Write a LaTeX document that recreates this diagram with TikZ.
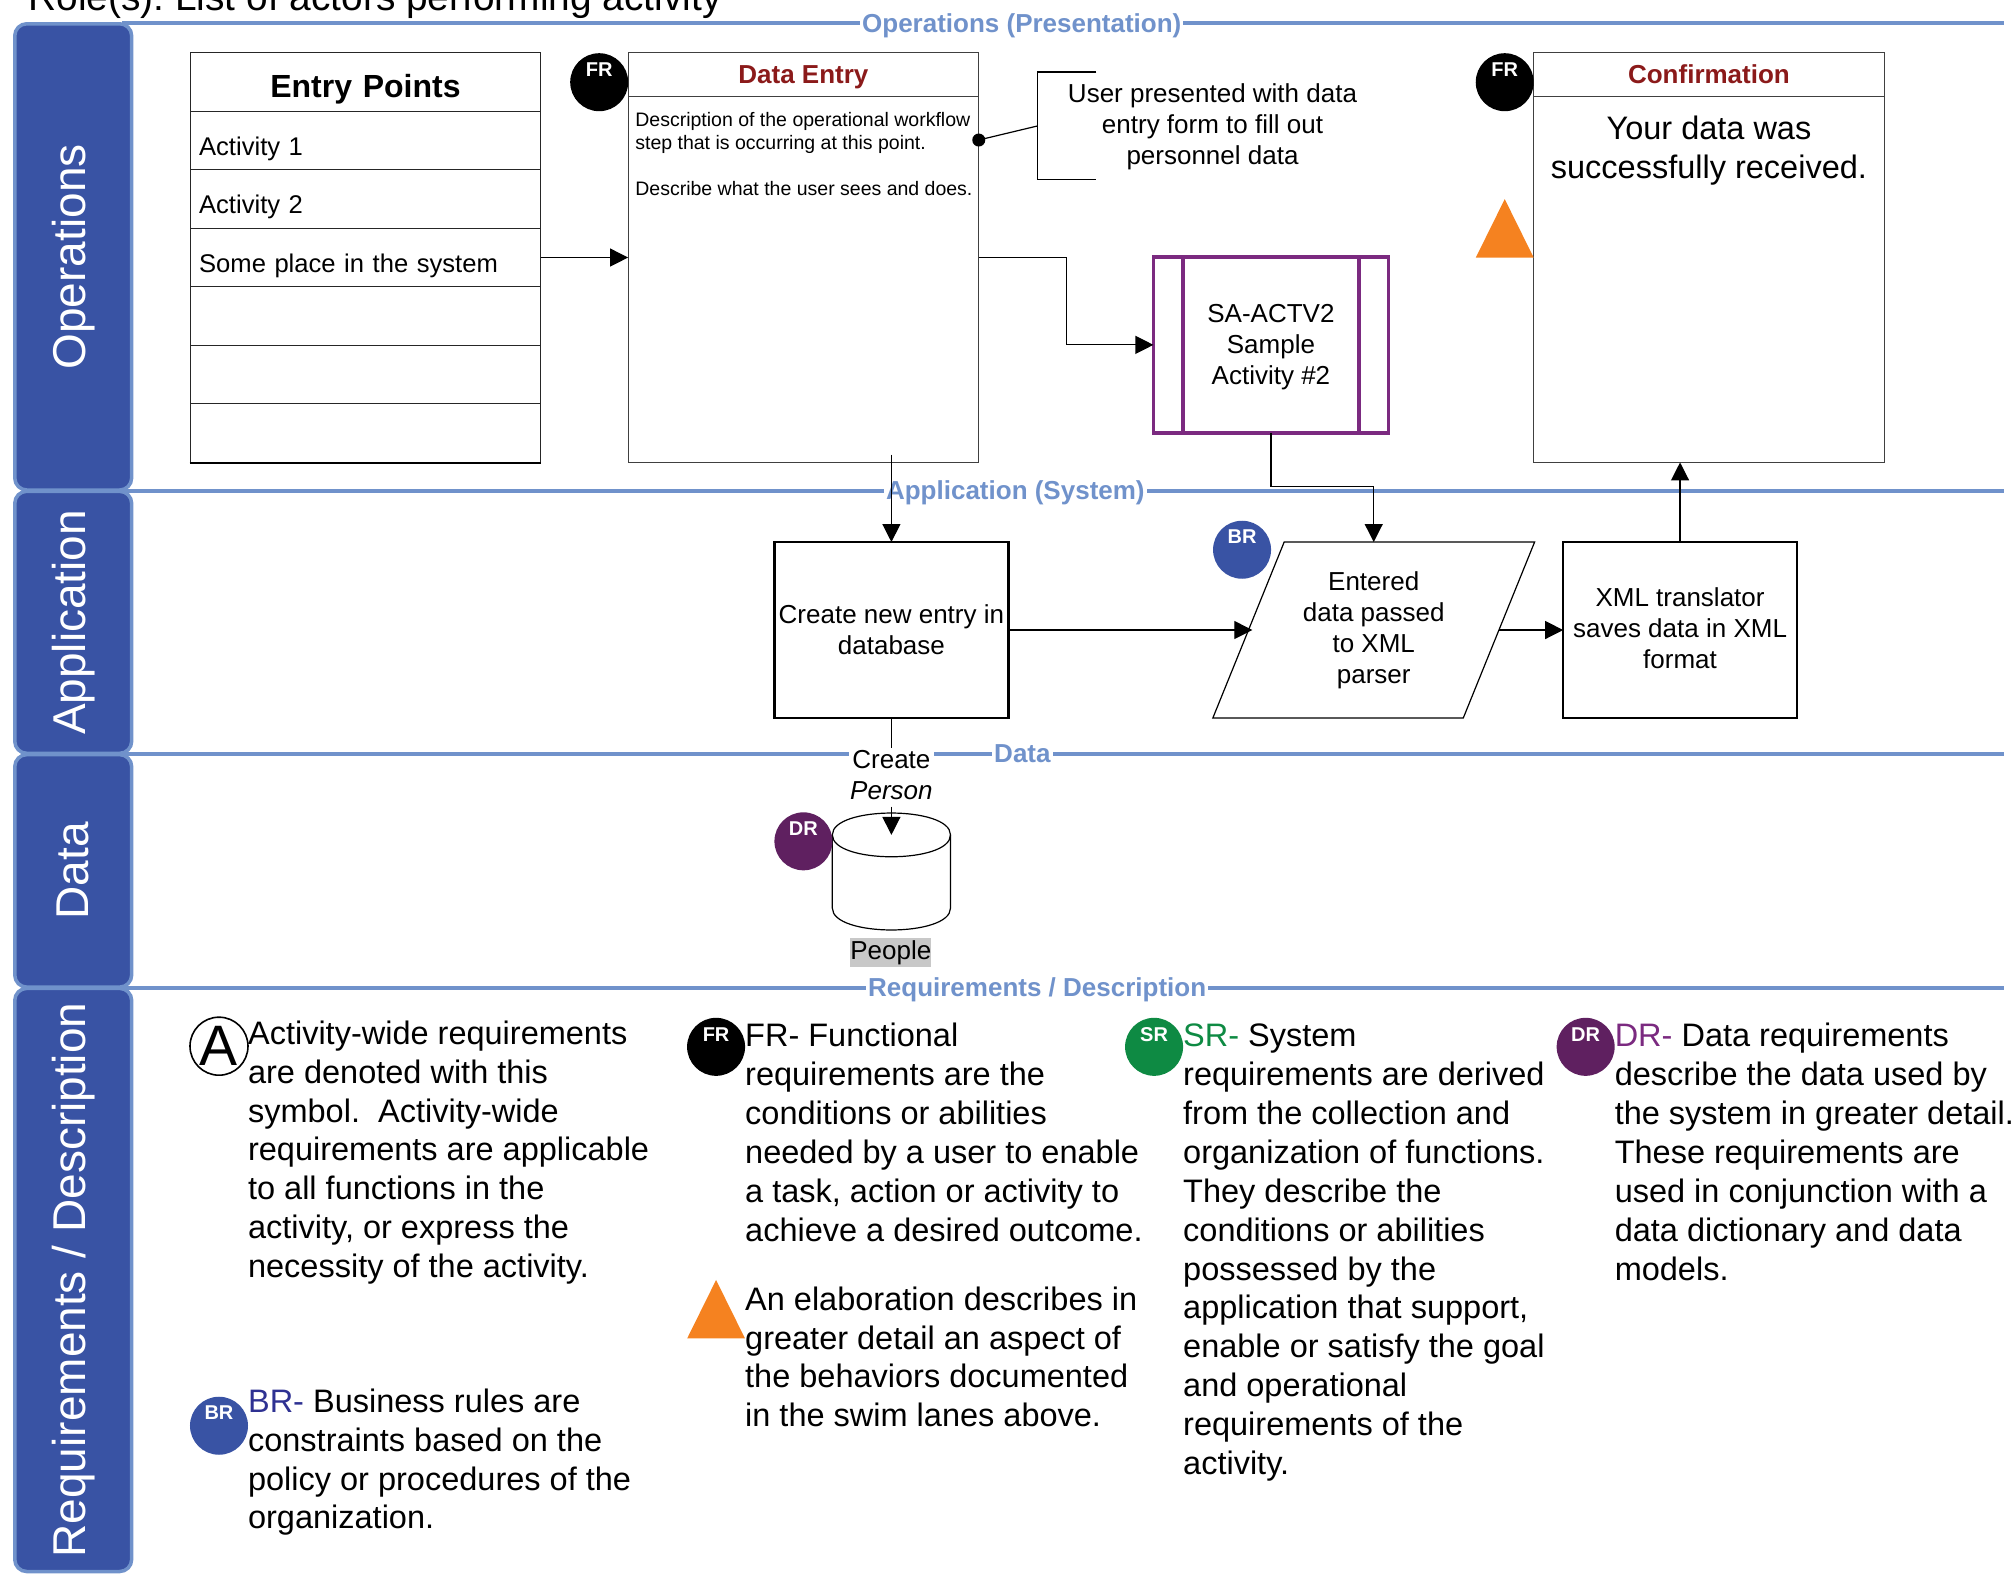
\documentclass[tikz,border=0pt]{standalone}
\usepackage{fontspec}
\setmainfont{Liberation Sans}
\usetikzlibrary{arrows.meta,shapes.geometric,calc}
\definecolor{lanefill}{HTML}{3953A4}
\definecolor{laneline}{HTML}{7092CB}
\definecolor{headred}{HTML}{8B1A1A}
\definecolor{subpurple}{HTML}{7B2A80}
\definecolor{drpurple}{HTML}{5F2060}
\definecolor{srgreen}{HTML}{0E8A43}
\definecolor{brblue}{HTML}{2E3192}
\definecolor{tri}{HTML}{F58220}
\definecolor{peoplegrey}{HTML}{C8C8C8}
\frenchspacing
\newcommand{\fs}[2]{\fontsize{#1pt}{#2pt}\selectfont}
\newcommand{\badgetxt}[1]{\smash{\raisebox{5.8pt}{\makebox[0pt]{\fs{20}{24}\bfseries #1}}}}
\newcommand{\rowtx}[1]{\smash{\raisebox{-14.8pt}{#1}}}
\tikzset{
  wh/.style 2 args={minimum width=#1*1.2844pt,minimum height=#2*1.2844pt,inner sep=0pt,outer sep=0pt},
  lane/.style={draw=laneline,fill=lanefill,line width=3.5pt,rounded corners=12pt,text=white,inner sep=0pt,outer sep=0pt},
  lanetxt/.style={text=white,rotate=90,font=\fs{46}{50},inner sep=0pt},
  sepline/.style={draw=laneline,line width=4pt},
  septxt/.style={fill=white,text=laneline,font=\fs{26}{30}\bfseries,inner xsep=2pt,inner ysep=1pt},
  tblrow/.style={draw=black!85,line width=1.2pt,fill=white,text width=332.6pt,align=left,inner xsep=9pt,font=\fs{25.6}{31}},
  panel/.style={draw=black!75,line width=1.2pt,fill=white},
  head/.style={draw=black!75,line width=1.2pt,font=\fs{26}{31}\bfseries,text=headred,text height=18.6pt,text depth=0pt},
  plain/.style={font=\fs{26}{31},align=center,inner sep=0pt},
  req/.style={font=\fs{32.5}{38.9},align=left,inner sep=0pt,anchor=north west},
  conn/.style={draw=black,line width=1.2pt},
  arr/.style={conn,-{Triangle[length=18pt,width=18pt]}},
  badge/.style={circle,minimum size=58pt,inner sep=0pt,outer sep=0pt,text=white},
  procbox/.style={draw=black,line width=2.6pt,fill=white,font=\fs{26}{31},align=center}
}
\begin{document}
\begin{tikzpicture}[x=1.2844pt,y=-1.2844pt]
\useasboundingbox (0,0) rectangle (1568,1226.2);
\clip (0,0) rectangle (1568,1226.2);

% title
\node[anchor=base west,inner sep=0pt,font=\fs{38.85}{44}] (title) at (22,8.5) {Role(s): List of actors performing activity};

% separators
\coordinate (e1) at (1560,18);
\coordinate (e2) at (1560,382);
\coordinate (e3) at (1560,587);
\coordinate (e4) at (1560,769);
\coordinate (s1) at (95,18);
\coordinate (s2) at (95,382);
\coordinate (s3) at (95,587);
\coordinate (s4) at (95,769);
\draw[sepline] (s1) -- (e1);
\draw[sepline] (s2) -- (e2);
\draw[sepline] (s3) -- (e3);
\draw[sepline] (s4) -- (e4);

% lanes
\node[lane,wh={91}{363}] (L1) at (57,200) {};
\node[lane,wh={91}{204}] (L2) at (57,484.5) {};
\node[lane,wh={91}{181}] (L3) at (57,678) {};
\node[lane,wh={91}{454}] (L4) at (57,996.5) {};
\node[lanetxt] (L1t) at (L1.center) {Operations};
\node[lanetxt] (L2t) at (L2.center) {Application};
\node[lanetxt] (L3t) at (L3.center) {Data};
\node[lanetxt] (L4t) at (L4.center) {Requirements / Description};

% separator labels
\node[septxt] (t1) at (795.5,20.3) {Operations (Presentation)};
\node[septxt] (t2) at (790.5,383.5) {Application (System)};
\node[septxt] (t3) at (796,586.5) {Data};
\node[septxt] (t4) at (807.5,770.5) {Requirements / Description};

% entry points table
\node[tblrow,minimum height=59pt,align=center,font=\fs{32}{38}\bfseries,inner sep=0pt,inner xsep=9pt] (h0) at (284.5,64) {\smash{\raisebox{-15pt}{Entry Points}}};
\node[tblrow,minimum height=58.5pt,inner ysep=0pt] (r1) at (284.5,109.5) {\rowtx{Activity 1}};
\node[tblrow,minimum height=58.5pt,inner ysep=0pt] (r2) at (284.5,155) {\rowtx{Activity 2}};
\node[tblrow,minimum height=58.5pt,inner ysep=0pt] (r3) at (284.5,200.5) {\rowtx{Some place in the system}};
\node[tblrow,minimum height=58.5pt,inner ysep=0pt] (r4) at (284.5,246) {};
\node[tblrow,minimum height=58.5pt,inner ysep=0pt] (r5) at (284.5,291.5) {};
\node[tblrow,minimum height=58.5pt,inner ysep=0pt] (r6) at (284.5,337) {};
\draw[draw=black,line width=2pt] (r6.south west) -- (r6.south east);

% data entry
\node[panel,wh={273}{319}] (de) at (625.5,200.5) {};
\node[head,wh={273}{34}] (deh) at (625.5,58) {Data Entry};
\node[anchor=north west,inner sep=0pt,align=left,font=\fs{19.5}{23}] (det) at (494.5,87.5) {Description of the operational workflow\\step that is occurring at this point.\\[23pt]Describe what the user sees and does.};
\node[badge,fill=black] (fr1) at (466.5,64) {\badgetxt{FR}};

% note
\coordinate (n1) at (853.5,56);
\coordinate (n2) at (808,56);
\coordinate (n3) at (808,140);
\coordinate (n4) at (853.5,140);
\coordinate (n5) at (808,98);
\draw[conn] (n1) -- (n2) -- (n3) -- (n4);
\node[plain] (note) at (944,99) {User presented with data\\entry form to fill out\\personnel data};
\node[circle,fill=black,minimum size=13pt,inner sep=0pt,outer sep=0pt] (dot) at (762,109) {};
\draw[conn] (dot) -- (n5);

% sub activity
\node[wh={183}{137},draw=subpurple,line width=3.5pt,fill=white] (sub) at (989.5,268.5) {};
\draw[draw=subpurple,line width=3.5pt] ([xshift=23*1.2844pt]sub.north west) -- ([xshift=23*1.2844pt]sub.south west);
\draw[draw=subpurple,line width=3.5pt] ([xshift=-23*1.2844pt]sub.north east) -- ([xshift=-23*1.2844pt]sub.south east);
\node[plain] (subt) at (989.5,270) {SA-ACTV2\\Sample\\Activity \#2};

% confirmation
\node[panel,wh={273}{319}] (co) at (1330.5,200.5) {};
\node[head,wh={273}{34}] (coh) at (1330.5,58) {Confirmation};
\node[plain,font=\fs{32.5}{38.9}] (cot) at (1330.5,117.5) {Your data was\\successfully received.};
\node[badge,fill=black] (fr2) at (1171.5,64) {\badgetxt{FR}};
\path[fill=tri] (1149,200.5) -- (1171.5,155) -- (1194,200.5) -- cycle;

% application
\node[procbox,wh={182}{137}] (cr) at (694,490.5) {Create new entry in\\database};
\node[trapezium,trapezium left angle=64.3,trapezium right angle=115.7,trapezium stretches=true,draw=black,line width=1.2pt,fill=white,wh={251}{137},plain] (pa) at (1069.5,490.5) {Entered\\data passed\\to XML\\parser};
\node[badge,fill=lanefill] (br1) at (967,428) {\badgetxt{BR}};
\node[procbox,wh={182}{137}] (xm) at (1308,490.5) {};
\node[plain] (xmt) at (1308,489) {XML translator\\saves data in XML\\format};

% data
\node[wh={92}{91}] (cy) at (694,678) {};
\path[draw=black,line width=1.2pt,fill=white] (648,650) -- (648,707) .. controls (648,729.7) and (740,729.7) .. (740,707) -- (740,650) .. controls (740,627.3) and (648,627.3) .. (648,650) -- cycle;
\path[draw=black,line width=1.2pt] (648,650) .. controls (648,672.7) and (740,672.7) .. (740,650);
\node[badge,fill=drpurple] (dr1) at (625.5,655) {\badgetxt{DR}};
\node[plain,fill=white,inner xsep=1pt,inner ysep=2pt] (cp) at (694,603.5) {Create\\\textit{Person}};
\node[font=\fs{26}{31},fill=peoplegrey,inner xsep=0pt,inner ysep=2pt] (pe) at (693.5,741.5) {People};

% connectors
\coordinate (c1) at (694,354);
\coordinate (c2) at (694,650);
\coordinate (c3) at (694,628);
\coordinate (paL) at ($(pa.bottom left corner)!.5!(pa.top left corner)+(3,0)$);
\coordinate (paR) at ($(pa.bottom right corner)!.5!(pa.top right corner)$);
\draw[arr] (r3.east) -- (de.west);
\draw[arr] (de.east) -- ++(68,0) |- (sub.west);
\draw[arr] (c1) -- (cr.north);
\draw[arr] (sub.south) -- ++(0,42) -| (pa.north);
\draw[arr] (cr.east) -- (paL);
\draw[arr] (paR) -- (paR -| xm.west);
\draw[arr] (xm.north) -- (xm.north |- co.south);
\draw[conn] (cr.south) -- (cp.north);
\draw[arr] (c3) -- (c2);

% requirements
\node[draw=black,line width=1.6pt,circle,minimum size=58pt,inner sep=0pt,font=\fs{57}{60}] (aa) at (170.5,814.5) {A};
\node[req] (ra) at (193,794.5) {Activity-wide requirements\\are denoted with this\\symbol.~ Activity-wide\\requirements are applicable\\to all functions in the\\activity, or express the\\necessity of the activity.};
\node[badge,fill=lanefill] (br2) at (170.5,1110) {\badgetxt{BR}};
\node[req] (rb) at (193,1081) {\textcolor{brblue}{BR-} Business rules are\\constraints based on the\\policy or procedures of the\\organization.};
\node[badge,fill=black] (fr3) at (557.5,815) {\badgetxt{FR}};
\node[req] (rf) at (580,796.5) {FR- Functional\\requirements are the\\conditions or abilities\\needed by a user to enable\\a task, action or activity to\\achieve a desired outcome.};
\path[fill=tri] (535,1042) -- (557.5,996.5) -- (580,1042) -- cycle;
\node[req] (re) at (580,1001.5) {An elaboration describes in\\greater detail an aspect of\\the behaviors documented\\in the swim lanes above.};
\node[badge,fill=srgreen] (sr1) at (898.5,815) {\badgetxt{SR}};
\node[req] (rs) at (921,797) {\textcolor{srgreen}{SR-} System\\requirements are derived\\from the collection and\\organization of functions.\\They describe the\\conditions or abilities\\possessed by the\\application that support,\\enable or satisfy the goal\\and operational\\requirements of the\\activity.};
\node[badge,fill=drpurple] (dr2) at (1234.5,815) {\badgetxt{DR}};
\node[req] (rd) at (1257,796.5) {\textcolor{subpurple}{DR-} Data requirements\\describe the data used by\\the system in greater detail.\\These requirements are\\used in conjunction with a\\data dictionary and data\\models.};
\end{tikzpicture}
\end{document}
